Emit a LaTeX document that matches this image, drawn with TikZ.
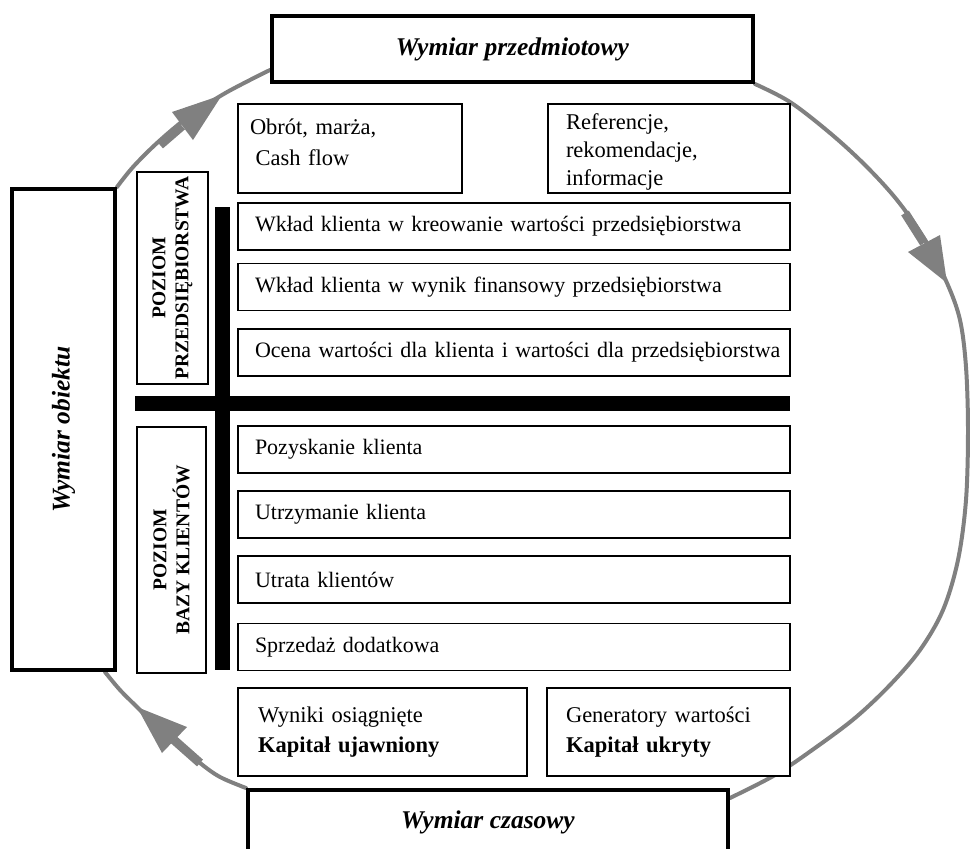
\documentclass[tikz,border=0pt]{standalone}
\usepackage{fontspec}
\setmainfont{Liberation Serif}
\usetikzlibrary{backgrounds}
\begin{document}
\begin{tikzpicture}[x=1pt,y=-1pt,
  plainbox/.style={draw=black, line width=1.3pt, fill=white},
  rowbox/.style={plainbox, inner xsep=17pt, inner ysep=0pt, text width=518pt,
    minimum height=47pt, align=left, font=\fontsize{22}{26}\selectfont},
  infobox/.style={plainbox, inner ysep=0pt, align=left, minimum height=89pt},
  dimbox/.style={draw=black, line width=4pt, fill=white, inner sep=0pt,
    font=\fontsize{25.5}{30}\selectfont\bfseries\itshape},
  dimtext/.style={inner sep=0pt, font=\fontsize{25.5}{30}\selectfont\bfseries\itshape},
  levelbox/.style={plainbox, rotate=90, inner sep=0pt, align=center,
    font=\fontsize{19.5}{23}\selectfont\bfseries},
  loopline/.style={draw=gray, line width=4pt, line cap=round},
  shaft/.style={draw=gray, line width=9pt},
  tiphead/.style={fill=gray},
  bar/.style={fill=black}
]
\useasboundingbox (0,0) rectangle (970,849);

% the three dimensions
\node[dimbox, minimum width=481pt, minimum height=66pt] (top) at (512.5,49) {Wymiar przedmiotowy};
\node[dimbox, rotate=90, minimum width=481pt, minimum height=103pt] (obj) at (63.5,429.5) {Wymiar obiektu};
\node[dimbox, minimum width=480pt, minimum height=110pt] (bot) at (488,845) {};
\node[dimtext] (botlabel) at (488,822) {Wymiar czasowy};

% upper info boxes
\node[infobox, inner xsep=12pt, text width=200pt, font=\fontsize{22.5}{31}\selectfont] (flow) at (350,148.5)
  {Obrót, marża,\\\hspace{0.25em}Cash flow\rule[-12.5pt]{0pt}{12.5pt}};
\node[infobox, inner xsep=18pt, text width=206pt, font=\fontsize{22.5}{28}\selectfont] (refs) at (669,148.5)
  {\rule{0pt}{23pt}Referencje,\\rekomendacje,\\informacje};

% level labels
\node[levelbox, minimum width=212pt, minimum height=71pt] (lvlfirm) at (172.5,278) {POZIOM\\PRZEDSIĘBIORSTWA};
\node[levelbox, minimum width=246pt, minimum height=69pt] (lvlbase) at (171.5,550) {POZIOM\\BAZY KLIENTÓW};

% separating bars
\fill[bar] (215,207) rectangle (230,670);
\fill[bar] (135,396) rectangle (790,411);

% rows
\node[rowbox] (r1) at (514,226.5) {\mbox{Wkład klienta w kreowanie wartości przedsiębiorstwa}};
\node[rowbox] (r2) at (514,287) {\mbox{Wkład klienta w wynik finansowy przedsiębiorstwa}};
\node[rowbox] (r3) at (514,352.5) {\mbox{Ocena wartości dla klienta i wartości dla przedsiębiorstwa}};
\node[rowbox] (r4) at (514,449.5) {Pozyskanie klienta};
\node[rowbox] (r5) at (514,514.5) {Utrzymanie klienta};
\node[rowbox] (r6) at (514,579.5) {Utrata klientów};
\node[rowbox] (r7) at (514,647) {Sprzedaż dodatkowa};

% lower info boxes
\node[infobox, inner xsep=20pt, text width=249pt, minimum height=88pt, font=\fontsize{22.5}{30}\selectfont] (shown) at (382.5,732)
  {Wyniki osiągnięte\\\textbf{Kapitał ujawniony}};
\node[infobox, inner xsep=19pt, text width=205pt, minimum height=88pt, font=\fontsize{22.5}{30}\selectfont] (hidden) at (668.5,732)
  {Generatory wartości\\\textbf{Kapitał ukryty}};

% the cycle around the whole scheme
\begin{scope}[on background layer]
  \draw[loopline] plot[smooth, tension=0.55] coordinates {
    (obj.south east) (133,167) (157,143) (188,117) (222,95) (250,80) ([yshift=14pt]top.south west)};
  \draw[loopline] plot[smooth, tension=0.55] coordinates {
    (top.south east) (790,102) (830,133) (865,165) (897,200) (925,240) (947,283) (960,320)
    (966,367) (968,430) (966,500) (958,560) (943,610) (920,650) (890,685) (855,718)
    (815,748) (775,775) ([yshift=-10pt]bot.north east)};
  \draw[loopline] plot[smooth, tension=0.55] coordinates {
    (bot.north west) (220,777) (200,763) (173,740) (155,725) (137,707) (120,690)
    ([xshift=-12pt]obj.south west)};
  % arrow heads
  \draw[shaft] (160,145) -- (182,126);
  \fill[tiphead] (222,95) -- (172,112) -- (193,140) -- cycle;
  \draw[shaft] (905,213) -- (924,243);
  \fill[tiphead] (947,283) -- (908,252) -- (940,235) -- cycle;
  \draw[shaft] (200,763) -- (174,740);
  \fill[tiphead] (137,707) -- (162,753) -- (187,727) -- cycle;
\end{scope}
\end{tikzpicture}
\end{document}
